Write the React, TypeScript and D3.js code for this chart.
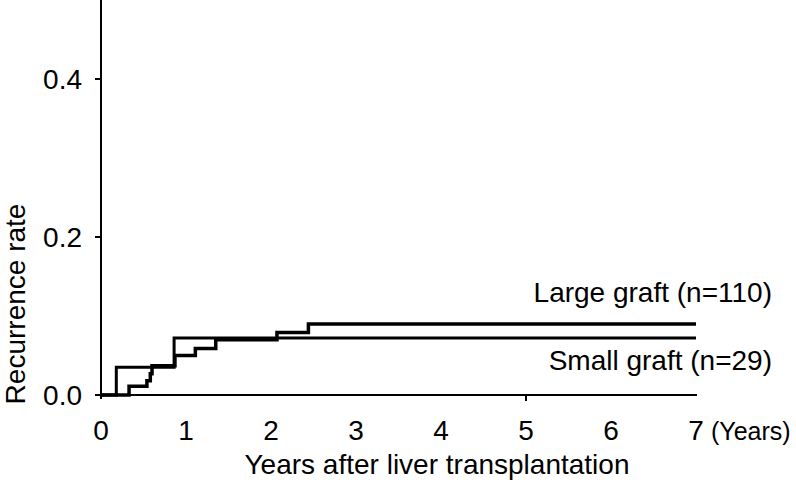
import React from "react";
import * as d3 from "d3";

const largeTimes = [0, 0.33, 0.54, 0.58, 0.6, 0.87, 1.11, 1.35, 2.07, 2.44, 7];
const largeRates = [0, 0.011, 0.018, 0.027, 0.037, 0.05, 0.059, 0.07, 0.079, 0.09, 0.09];
const smallTimes = [0, 0.18, 0.86, 7];
const smallRates = [0, 0.035, 0.072, 0.072];
const xTickValues = [0, 1, 2, 3, 4, 5, 6, 7];
const yTickValues = [0, 0.2, 0.4];
const seriesLabels = ["Large graft (n=110)", "Small graft (n=29)"];

const W = 796;
const H = 485;
const FONT = "'Liberation Sans', Arial, Helvetica, sans-serif";
const FS = 28;

export default function App() {
  const x = d3.scaleLinear().domain([0, 7]).range([101, 696]);
  const y = d3.scaleLinear().domain([0, 0.5]).range([395, 0]);
  const line = d3
    .line<[number, number]>()
    .x((d) => x(d[0]))
    .y((d) => y(d[1]))
    .curve(d3.curveStepAfter);
  const large = largeTimes.map((t, i) => [t, largeRates[i]] as [number, number]);
  const small = smallTimes.map((t, i) => [t, smallRates[i]] as [number, number]);

  return (
    <svg
      width={W}
      height={H}
      style={{ position: "absolute", left: 0, top: 0, background: "#fff" }}
      fontFamily={FONT}
    >
      <rect width={W} height={H} fill="#fff" />
      {/* axes */}
      <line x1={x(0)} x2={x(0)} y1={0} y2={399} stroke="#000" strokeWidth={2} />
      <line x1={95} x2={x(7) + 1} y1={y(0)} y2={y(0)} stroke="#000" strokeWidth={2} />
      {yTickValues.map((v) => (
        <g key={v}>
          <line x1={95} x2={x(0)} y1={y(v)} y2={y(v)} stroke="#000" strokeWidth={2} />
          <text x={82} y={y(v) + 10} textAnchor="end" fontSize={FS} fill="#000">
            {d3.format(".1f")(v)}
          </text>
        </g>
      ))}
      <line x1={x(5)} x2={x(5)} y1={y(0)} y2={y(0) + 6} stroke="#000" strokeWidth={2} />
      {xTickValues.map((v) => (
        <text key={v} x={x(v)} y={440} textAnchor="middle" fontSize={FS} fill="#000">
          {v}
        </text>
      ))}
      <text x={711} y={440} textAnchor="start" fontSize={25} fill="#000">
        (Years)
      </text>
      <text x={437} y={474} textAnchor="middle" fontSize={FS} fill="#000">
        Years after liver transplantation
      </text>
      <text
        transform={`translate(25,304) rotate(-90)`}
        textAnchor="middle"
        fontSize={FS}
        fill="#000"
      >
        Recurrence rate
      </text>
      {/* curves */}
      <path d={line(small) || ""} fill="none" stroke="#000" strokeWidth={3} />
      <path d={line(large) || ""} fill="none" stroke="#000" strokeWidth={3.5} />
      <text x={772} y={302} textAnchor="end" fontSize={FS} fill="#000">
        {seriesLabels[0]}
      </text>
      <text x={772} y={370} textAnchor="end" fontSize={FS} fill="#000">
        {seriesLabels[1]}
      </text>
    </svg>
  );
}
